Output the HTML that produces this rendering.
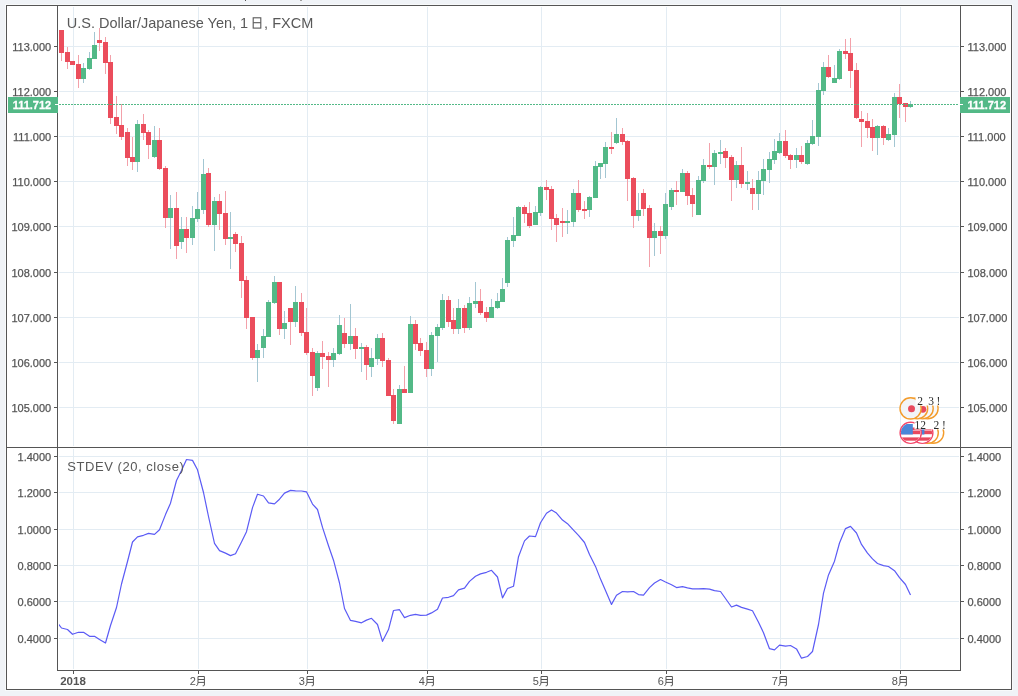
<!DOCTYPE html>
<html><head><meta charset="utf-8"><title>USDJPY</title>
<style>html,body{margin:0;padding:0;background:#f0f3f7;}body{width:1018px;height:696px;position:relative;overflow:hidden;font-family:"Liberation Sans",sans-serif;}</style>
</head><body>
<svg width="1018" height="696" viewBox="0 0 1018 696" style="position:absolute;left:0;top:0;will-change:transform">
<rect x="0" y="0" width="1018" height="696" fill="#f0f3f7"/>
<rect x="245" y="0" width="1" height="1" fill="#555"/><rect x="300" y="0" width="2" height="1" fill="#a0a0a0"/>
<rect x="5" y="4" width="1008" height="687" fill="#f8fafb"/>
<rect x="6" y="5" width="1006" height="685" fill="#ffffff"/>
<g fill="#e3ecf3" shape-rendering="crispEdges">
<rect x="73" y="7" width="1" height="439"/>
<rect x="73" y="449" width="1" height="220"/>
<rect x="198" y="7" width="1" height="439"/>
<rect x="198" y="449" width="1" height="220"/>
<rect x="307" y="7" width="1" height="439"/>
<rect x="307" y="449" width="1" height="220"/>
<rect x="427" y="7" width="1" height="439"/>
<rect x="427" y="449" width="1" height="220"/>
<rect x="541" y="7" width="1" height="439"/>
<rect x="541" y="449" width="1" height="220"/>
<rect x="666" y="7" width="1" height="439"/>
<rect x="666" y="449" width="1" height="220"/>
<rect x="780" y="7" width="1" height="439"/>
<rect x="780" y="449" width="1" height="220"/>
<rect x="900" y="7" width="1" height="439"/>
<rect x="900" y="449" width="1" height="220"/>
<rect x="59" y="46" width="900" height="1"/>
<rect x="59" y="91" width="900" height="1"/>
<rect x="59" y="136" width="900" height="1"/>
<rect x="59" y="181" width="900" height="1"/>
<rect x="59" y="226" width="900" height="1"/>
<rect x="59" y="272" width="900" height="1"/>
<rect x="59" y="317" width="900" height="1"/>
<rect x="59" y="362" width="900" height="1"/>
<rect x="59" y="407" width="900" height="1"/>
<rect x="59" y="456" width="900" height="1"/>
<rect x="59" y="492" width="900" height="1"/>
<rect x="59" y="529" width="900" height="1"/>
<rect x="59" y="565" width="900" height="1"/>
<rect x="59" y="601" width="900" height="1"/>
<rect x="59" y="638" width="900" height="1"/>
</g>
<defs><clipPath id="cm"><rect x="58" y="6" width="902" height="441"/></clipPath><clipPath id="ci"><rect x="59" y="448" width="901" height="222"/></clipPath></defs>
<g clip-path="url(#cm)" shape-rendering="crispEdges">
<rect x="61" y="53" width="1" height="8" fill="#f3a1aa"/>
<rect x="59" y="30" width="5" height="23" fill="#eb4d5c"/>
<rect x="67" y="47" width="1" height="5" fill="#f3a1aa"/>
<rect x="67" y="62" width="1" height="7" fill="#f3a1aa"/>
<rect x="65" y="52" width="5" height="10" fill="#eb4d5c"/>
<rect x="70" y="61" width="5" height="4" fill="#eb4d5c"/>
<rect x="78" y="55" width="1" height="9" fill="#f3a1aa"/>
<rect x="78" y="79" width="1" height="9" fill="#f3a1aa"/>
<rect x="76" y="64" width="5" height="15" fill="#eb4d5c"/>
<rect x="83" y="63" width="1" height="5" fill="#a3c6d2"/>
<rect x="83" y="79" width="1" height="4" fill="#a3c6d2"/>
<rect x="81" y="68" width="5" height="11" fill="#53b987"/>
<rect x="89" y="52" width="1" height="6" fill="#a3c6d2"/>
<rect x="89" y="69" width="1" height="1" fill="#a3c6d2"/>
<rect x="87" y="58" width="5" height="11" fill="#53b987"/>
<rect x="94" y="32" width="1" height="13" fill="#a3c6d2"/>
<rect x="92" y="45" width="5" height="14" fill="#53b987"/>
<rect x="99" y="28" width="1" height="12" fill="#f3a1aa"/>
<rect x="99" y="43" width="1" height="8" fill="#f3a1aa"/>
<rect x="97" y="40" width="5" height="3" fill="#eb4d5c"/>
<rect x="105" y="37" width="1" height="5" fill="#f3a1aa"/>
<rect x="105" y="63" width="1" height="11" fill="#f3a1aa"/>
<rect x="103" y="42" width="5" height="21" fill="#eb4d5c"/>
<rect x="110" y="55" width="1" height="7" fill="#f3a1aa"/>
<rect x="110" y="118" width="1" height="6" fill="#f3a1aa"/>
<rect x="108" y="62" width="5" height="56" fill="#eb4d5c"/>
<rect x="116" y="96" width="1" height="21" fill="#f3a1aa"/>
<rect x="116" y="126" width="1" height="8" fill="#f3a1aa"/>
<rect x="114" y="117" width="5" height="9" fill="#eb4d5c"/>
<rect x="121" y="104" width="1" height="21" fill="#f3a1aa"/>
<rect x="121" y="137" width="1" height="3" fill="#f3a1aa"/>
<rect x="119" y="125" width="5" height="12" fill="#eb4d5c"/>
<rect x="127" y="128" width="1" height="4" fill="#f3a1aa"/>
<rect x="127" y="158" width="1" height="8" fill="#f3a1aa"/>
<rect x="125" y="132" width="5" height="26" fill="#eb4d5c"/>
<rect x="132" y="137" width="1" height="20" fill="#f3a1aa"/>
<rect x="132" y="162" width="1" height="8" fill="#f3a1aa"/>
<rect x="130" y="157" width="5" height="5" fill="#eb4d5c"/>
<rect x="137" y="120" width="1" height="4" fill="#a3c6d2"/>
<rect x="137" y="162" width="1" height="10" fill="#a3c6d2"/>
<rect x="135" y="124" width="5" height="38" fill="#53b987"/>
<rect x="143" y="114" width="1" height="10" fill="#f3a1aa"/>
<rect x="143" y="133" width="1" height="7" fill="#f3a1aa"/>
<rect x="141" y="124" width="5" height="9" fill="#eb4d5c"/>
<rect x="148" y="130" width="1" height="2" fill="#f3a1aa"/>
<rect x="148" y="145" width="1" height="14" fill="#f3a1aa"/>
<rect x="146" y="132" width="5" height="13" fill="#eb4d5c"/>
<rect x="154" y="126" width="1" height="14" fill="#a3c6d2"/>
<rect x="154" y="157" width="1" height="1" fill="#a3c6d2"/>
<rect x="152" y="140" width="5" height="17" fill="#53b987"/>
<rect x="159" y="128" width="1" height="12" fill="#f3a1aa"/>
<rect x="159" y="169" width="1" height="1" fill="#f3a1aa"/>
<rect x="157" y="140" width="5" height="29" fill="#eb4d5c"/>
<rect x="165" y="166" width="1" height="2" fill="#f3a1aa"/>
<rect x="165" y="218" width="1" height="10" fill="#f3a1aa"/>
<rect x="163" y="168" width="5" height="50" fill="#eb4d5c"/>
<rect x="170" y="195" width="1" height="13" fill="#a3c6d2"/>
<rect x="170" y="218" width="1" height="31" fill="#a3c6d2"/>
<rect x="168" y="208" width="5" height="10" fill="#53b987"/>
<rect x="176" y="192" width="1" height="16" fill="#f3a1aa"/>
<rect x="176" y="246" width="1" height="13" fill="#f3a1aa"/>
<rect x="174" y="208" width="5" height="38" fill="#eb4d5c"/>
<rect x="181" y="217" width="1" height="12" fill="#a3c6d2"/>
<rect x="181" y="242" width="1" height="7" fill="#a3c6d2"/>
<rect x="179" y="229" width="5" height="13" fill="#53b987"/>
<rect x="186" y="217" width="1" height="12" fill="#f3a1aa"/>
<rect x="186" y="238" width="1" height="15" fill="#f3a1aa"/>
<rect x="184" y="229" width="5" height="9" fill="#eb4d5c"/>
<rect x="192" y="206" width="1" height="12" fill="#a3c6d2"/>
<rect x="192" y="238" width="1" height="7" fill="#a3c6d2"/>
<rect x="190" y="218" width="5" height="20" fill="#53b987"/>
<rect x="197" y="192" width="1" height="17" fill="#a3c6d2"/>
<rect x="197" y="219" width="1" height="3" fill="#a3c6d2"/>
<rect x="195" y="209" width="5" height="10" fill="#53b987"/>
<rect x="203" y="159" width="1" height="15" fill="#a3c6d2"/>
<rect x="203" y="210" width="1" height="4" fill="#a3c6d2"/>
<rect x="201" y="174" width="5" height="36" fill="#53b987"/>
<rect x="208" y="168" width="1" height="5" fill="#f3a1aa"/>
<rect x="208" y="225" width="1" height="2" fill="#f3a1aa"/>
<rect x="206" y="173" width="5" height="52" fill="#eb4d5c"/>
<rect x="214" y="197" width="1" height="4" fill="#a3c6d2"/>
<rect x="214" y="225" width="1" height="26" fill="#a3c6d2"/>
<rect x="212" y="201" width="5" height="24" fill="#53b987"/>
<rect x="219" y="194" width="1" height="7" fill="#f3a1aa"/>
<rect x="219" y="214" width="1" height="16" fill="#f3a1aa"/>
<rect x="217" y="201" width="5" height="13" fill="#eb4d5c"/>
<rect x="225" y="191" width="1" height="22" fill="#f3a1aa"/>
<rect x="225" y="239" width="1" height="6" fill="#f3a1aa"/>
<rect x="223" y="213" width="5" height="26" fill="#eb4d5c"/>
<rect x="230" y="212" width="1" height="25" fill="#a3c6d2"/>
<rect x="230" y="239" width="1" height="30" fill="#a3c6d2"/>
<rect x="228" y="237" width="5" height="2" fill="#53b987"/>
<rect x="235" y="232" width="1" height="2" fill="#f3a1aa"/>
<rect x="235" y="244" width="1" height="8" fill="#f3a1aa"/>
<rect x="233" y="234" width="5" height="10" fill="#eb4d5c"/>
<rect x="241" y="236" width="1" height="7" fill="#f3a1aa"/>
<rect x="241" y="281" width="1" height="17" fill="#f3a1aa"/>
<rect x="239" y="243" width="5" height="38" fill="#eb4d5c"/>
<rect x="246" y="276" width="1" height="4" fill="#f3a1aa"/>
<rect x="246" y="318" width="1" height="11" fill="#f3a1aa"/>
<rect x="244" y="280" width="5" height="38" fill="#eb4d5c"/>
<rect x="252" y="358" width="1" height="2" fill="#f3a1aa"/>
<rect x="250" y="317" width="5" height="41" fill="#eb4d5c"/>
<rect x="257" y="344" width="1" height="6" fill="#a3c6d2"/>
<rect x="257" y="358" width="1" height="24" fill="#a3c6d2"/>
<rect x="255" y="350" width="5" height="8" fill="#53b987"/>
<rect x="263" y="329" width="1" height="7" fill="#a3c6d2"/>
<rect x="263" y="348" width="1" height="10" fill="#a3c6d2"/>
<rect x="261" y="336" width="5" height="12" fill="#53b987"/>
<rect x="268" y="300" width="1" height="2" fill="#a3c6d2"/>
<rect x="266" y="302" width="5" height="35" fill="#53b987"/>
<rect x="274" y="276" width="1" height="6" fill="#a3c6d2"/>
<rect x="274" y="303" width="1" height="1" fill="#a3c6d2"/>
<rect x="272" y="282" width="5" height="21" fill="#53b987"/>
<rect x="279" y="329" width="1" height="6" fill="#f3a1aa"/>
<rect x="277" y="282" width="5" height="47" fill="#eb4d5c"/>
<rect x="284" y="311" width="1" height="12" fill="#a3c6d2"/>
<rect x="284" y="329" width="1" height="10" fill="#a3c6d2"/>
<rect x="282" y="323" width="5" height="6" fill="#53b987"/>
<rect x="290" y="322" width="1" height="23" fill="#f3a1aa"/>
<rect x="288" y="308" width="5" height="14" fill="#eb4d5c"/>
<rect x="295" y="286" width="1" height="16" fill="#a3c6d2"/>
<rect x="295" y="322" width="1" height="5" fill="#a3c6d2"/>
<rect x="293" y="302" width="5" height="20" fill="#53b987"/>
<rect x="301" y="293" width="1" height="9" fill="#f3a1aa"/>
<rect x="301" y="333" width="1" height="3" fill="#f3a1aa"/>
<rect x="299" y="302" width="5" height="31" fill="#eb4d5c"/>
<rect x="306" y="308" width="1" height="24" fill="#f3a1aa"/>
<rect x="306" y="353" width="1" height="2" fill="#f3a1aa"/>
<rect x="304" y="332" width="5" height="21" fill="#eb4d5c"/>
<rect x="312" y="348" width="1" height="4" fill="#f3a1aa"/>
<rect x="312" y="376" width="1" height="20" fill="#f3a1aa"/>
<rect x="310" y="352" width="5" height="24" fill="#eb4d5c"/>
<rect x="317" y="351" width="1" height="2" fill="#a3c6d2"/>
<rect x="317" y="388" width="1" height="3" fill="#a3c6d2"/>
<rect x="315" y="353" width="5" height="35" fill="#53b987"/>
<rect x="322" y="341" width="1" height="12" fill="#f3a1aa"/>
<rect x="322" y="357" width="1" height="12" fill="#f3a1aa"/>
<rect x="320" y="353" width="5" height="4" fill="#eb4d5c"/>
<rect x="328" y="352" width="1" height="4" fill="#f3a1aa"/>
<rect x="328" y="360" width="1" height="27" fill="#f3a1aa"/>
<rect x="326" y="356" width="5" height="4" fill="#eb4d5c"/>
<rect x="333" y="348" width="1" height="5" fill="#a3c6d2"/>
<rect x="333" y="360" width="1" height="7" fill="#a3c6d2"/>
<rect x="331" y="353" width="5" height="7" fill="#53b987"/>
<rect x="339" y="315" width="1" height="10" fill="#a3c6d2"/>
<rect x="339" y="354" width="1" height="1" fill="#a3c6d2"/>
<rect x="337" y="325" width="5" height="29" fill="#53b987"/>
<rect x="344" y="318" width="1" height="15" fill="#f3a1aa"/>
<rect x="344" y="344" width="1" height="4" fill="#f3a1aa"/>
<rect x="342" y="333" width="5" height="11" fill="#eb4d5c"/>
<rect x="350" y="304" width="1" height="32" fill="#a3c6d2"/>
<rect x="350" y="344" width="1" height="6" fill="#a3c6d2"/>
<rect x="348" y="336" width="5" height="8" fill="#53b987"/>
<rect x="355" y="328" width="1" height="8" fill="#f3a1aa"/>
<rect x="355" y="349" width="1" height="10" fill="#f3a1aa"/>
<rect x="353" y="336" width="5" height="13" fill="#eb4d5c"/>
<rect x="361" y="343" width="1" height="4" fill="#a3c6d2"/>
<rect x="361" y="349" width="1" height="23" fill="#a3c6d2"/>
<rect x="359" y="347" width="5" height="2" fill="#53b987"/>
<rect x="366" y="345" width="1" height="2" fill="#f3a1aa"/>
<rect x="366" y="365" width="1" height="15" fill="#f3a1aa"/>
<rect x="364" y="347" width="5" height="18" fill="#eb4d5c"/>
<rect x="371" y="348" width="1" height="10" fill="#a3c6d2"/>
<rect x="371" y="367" width="1" height="10" fill="#a3c6d2"/>
<rect x="369" y="358" width="5" height="9" fill="#53b987"/>
<rect x="377" y="334" width="1" height="4" fill="#a3c6d2"/>
<rect x="377" y="359" width="1" height="6" fill="#a3c6d2"/>
<rect x="375" y="338" width="5" height="21" fill="#53b987"/>
<rect x="382" y="333" width="1" height="5" fill="#f3a1aa"/>
<rect x="382" y="361" width="1" height="6" fill="#f3a1aa"/>
<rect x="380" y="338" width="5" height="23" fill="#eb4d5c"/>
<rect x="388" y="358" width="1" height="2" fill="#f3a1aa"/>
<rect x="386" y="360" width="5" height="36" fill="#eb4d5c"/>
<rect x="393" y="389" width="1" height="6" fill="#f3a1aa"/>
<rect x="393" y="421" width="1" height="3" fill="#f3a1aa"/>
<rect x="391" y="395" width="5" height="26" fill="#eb4d5c"/>
<rect x="399" y="385" width="1" height="4" fill="#a3c6d2"/>
<rect x="397" y="389" width="5" height="35" fill="#53b987"/>
<rect x="404" y="366" width="1" height="23" fill="#f3a1aa"/>
<rect x="402" y="389" width="5" height="4" fill="#eb4d5c"/>
<rect x="410" y="316" width="1" height="8" fill="#a3c6d2"/>
<rect x="408" y="324" width="5" height="69" fill="#53b987"/>
<rect x="415" y="320" width="1" height="4" fill="#f3a1aa"/>
<rect x="415" y="344" width="1" height="6" fill="#f3a1aa"/>
<rect x="413" y="324" width="5" height="20" fill="#eb4d5c"/>
<rect x="420" y="338" width="1" height="5" fill="#f3a1aa"/>
<rect x="420" y="351" width="1" height="5" fill="#f3a1aa"/>
<rect x="418" y="343" width="5" height="8" fill="#eb4d5c"/>
<rect x="426" y="342" width="1" height="8" fill="#f3a1aa"/>
<rect x="426" y="369" width="1" height="8" fill="#f3a1aa"/>
<rect x="424" y="350" width="5" height="19" fill="#eb4d5c"/>
<rect x="431" y="332" width="1" height="3" fill="#a3c6d2"/>
<rect x="431" y="369" width="1" height="7" fill="#a3c6d2"/>
<rect x="429" y="335" width="5" height="34" fill="#53b987"/>
<rect x="437" y="324" width="1" height="3" fill="#a3c6d2"/>
<rect x="437" y="336" width="1" height="26" fill="#a3c6d2"/>
<rect x="435" y="327" width="5" height="9" fill="#53b987"/>
<rect x="442" y="294" width="1" height="6" fill="#a3c6d2"/>
<rect x="442" y="328" width="1" height="2" fill="#a3c6d2"/>
<rect x="440" y="300" width="5" height="28" fill="#53b987"/>
<rect x="448" y="296" width="1" height="4" fill="#f3a1aa"/>
<rect x="448" y="322" width="1" height="5" fill="#f3a1aa"/>
<rect x="446" y="300" width="5" height="22" fill="#eb4d5c"/>
<rect x="453" y="308" width="1" height="12" fill="#f3a1aa"/>
<rect x="453" y="329" width="1" height="5" fill="#f3a1aa"/>
<rect x="451" y="320" width="5" height="9" fill="#eb4d5c"/>
<rect x="458" y="299" width="1" height="9" fill="#a3c6d2"/>
<rect x="458" y="329" width="1" height="5" fill="#a3c6d2"/>
<rect x="456" y="308" width="5" height="21" fill="#53b987"/>
<rect x="464" y="305" width="1" height="3" fill="#f3a1aa"/>
<rect x="464" y="328" width="1" height="5" fill="#f3a1aa"/>
<rect x="462" y="308" width="5" height="20" fill="#eb4d5c"/>
<rect x="469" y="297" width="1" height="6" fill="#a3c6d2"/>
<rect x="469" y="328" width="1" height="2" fill="#a3c6d2"/>
<rect x="467" y="303" width="5" height="25" fill="#53b987"/>
<rect x="475" y="282" width="1" height="19" fill="#a3c6d2"/>
<rect x="475" y="304" width="1" height="4" fill="#a3c6d2"/>
<rect x="473" y="301" width="5" height="3" fill="#53b987"/>
<rect x="480" y="289" width="1" height="12" fill="#f3a1aa"/>
<rect x="480" y="313" width="1" height="2" fill="#f3a1aa"/>
<rect x="478" y="301" width="5" height="12" fill="#eb4d5c"/>
<rect x="486" y="307" width="1" height="5" fill="#f3a1aa"/>
<rect x="486" y="318" width="1" height="4" fill="#f3a1aa"/>
<rect x="484" y="312" width="5" height="6" fill="#eb4d5c"/>
<rect x="491" y="299" width="1" height="8" fill="#a3c6d2"/>
<rect x="489" y="307" width="5" height="11" fill="#53b987"/>
<rect x="497" y="293" width="1" height="8" fill="#a3c6d2"/>
<rect x="497" y="308" width="1" height="1" fill="#a3c6d2"/>
<rect x="495" y="301" width="5" height="7" fill="#53b987"/>
<rect x="502" y="278" width="1" height="11" fill="#a3c6d2"/>
<rect x="500" y="289" width="5" height="13" fill="#53b987"/>
<rect x="507" y="237" width="1" height="3" fill="#a3c6d2"/>
<rect x="507" y="283" width="1" height="4" fill="#a3c6d2"/>
<rect x="505" y="240" width="5" height="43" fill="#53b987"/>
<rect x="513" y="217" width="1" height="18" fill="#a3c6d2"/>
<rect x="513" y="241" width="1" height="6" fill="#a3c6d2"/>
<rect x="511" y="235" width="5" height="6" fill="#53b987"/>
<rect x="518" y="206" width="1" height="1" fill="#a3c6d2"/>
<rect x="516" y="207" width="5" height="29" fill="#53b987"/>
<rect x="524" y="205" width="1" height="2" fill="#f3a1aa"/>
<rect x="524" y="214" width="1" height="9" fill="#f3a1aa"/>
<rect x="522" y="207" width="5" height="7" fill="#eb4d5c"/>
<rect x="529" y="202" width="1" height="11" fill="#f3a1aa"/>
<rect x="529" y="226" width="1" height="2" fill="#f3a1aa"/>
<rect x="527" y="213" width="5" height="13" fill="#eb4d5c"/>
<rect x="535" y="206" width="1" height="6" fill="#a3c6d2"/>
<rect x="533" y="212" width="5" height="13" fill="#53b987"/>
<rect x="540" y="186" width="1" height="1" fill="#a3c6d2"/>
<rect x="540" y="213" width="1" height="3" fill="#a3c6d2"/>
<rect x="538" y="187" width="5" height="26" fill="#53b987"/>
<rect x="546" y="180" width="1" height="7" fill="#f3a1aa"/>
<rect x="546" y="190" width="1" height="10" fill="#f3a1aa"/>
<rect x="544" y="187" width="5" height="3" fill="#eb4d5c"/>
<rect x="551" y="186" width="1" height="3" fill="#f3a1aa"/>
<rect x="551" y="219" width="1" height="11" fill="#f3a1aa"/>
<rect x="549" y="189" width="5" height="30" fill="#eb4d5c"/>
<rect x="556" y="214" width="1" height="4" fill="#f3a1aa"/>
<rect x="556" y="225" width="1" height="17" fill="#f3a1aa"/>
<rect x="554" y="218" width="5" height="7" fill="#eb4d5c"/>
<rect x="562" y="208" width="1" height="13" fill="#f3a1aa"/>
<rect x="562" y="223" width="1" height="14" fill="#f3a1aa"/>
<rect x="560" y="221" width="5" height="2" fill="#eb4d5c"/>
<rect x="567" y="210" width="1" height="11" fill="#a3c6d2"/>
<rect x="567" y="223" width="1" height="11" fill="#a3c6d2"/>
<rect x="565" y="221" width="5" height="2" fill="#53b987"/>
<rect x="573" y="189" width="1" height="4" fill="#a3c6d2"/>
<rect x="573" y="222" width="1" height="5" fill="#a3c6d2"/>
<rect x="571" y="193" width="5" height="29" fill="#53b987"/>
<rect x="578" y="180" width="1" height="13" fill="#f3a1aa"/>
<rect x="578" y="210" width="1" height="2" fill="#f3a1aa"/>
<rect x="576" y="193" width="5" height="17" fill="#eb4d5c"/>
<rect x="584" y="201" width="1" height="8" fill="#f3a1aa"/>
<rect x="584" y="211" width="1" height="8" fill="#f3a1aa"/>
<rect x="582" y="209" width="5" height="2" fill="#eb4d5c"/>
<rect x="589" y="196" width="1" height="1" fill="#a3c6d2"/>
<rect x="589" y="210" width="1" height="7" fill="#a3c6d2"/>
<rect x="587" y="197" width="5" height="13" fill="#53b987"/>
<rect x="595" y="161" width="1" height="5" fill="#a3c6d2"/>
<rect x="593" y="166" width="5" height="32" fill="#53b987"/>
<rect x="600" y="167" width="1" height="12" fill="#a3c6d2"/>
<rect x="598" y="163" width="5" height="4" fill="#53b987"/>
<rect x="605" y="142" width="1" height="5" fill="#a3c6d2"/>
<rect x="605" y="164" width="1" height="14" fill="#a3c6d2"/>
<rect x="603" y="147" width="5" height="17" fill="#53b987"/>
<rect x="611" y="132" width="1" height="15" fill="#f3a1aa"/>
<rect x="611" y="149" width="1" height="5" fill="#f3a1aa"/>
<rect x="609" y="147" width="5" height="2" fill="#eb4d5c"/>
<rect x="616" y="118" width="1" height="16" fill="#a3c6d2"/>
<rect x="616" y="143" width="1" height="1" fill="#a3c6d2"/>
<rect x="614" y="134" width="5" height="9" fill="#53b987"/>
<rect x="622" y="128" width="1" height="6" fill="#f3a1aa"/>
<rect x="622" y="142" width="1" height="3" fill="#f3a1aa"/>
<rect x="620" y="134" width="5" height="8" fill="#eb4d5c"/>
<rect x="627" y="140" width="1" height="1" fill="#f3a1aa"/>
<rect x="627" y="179" width="1" height="22" fill="#f3a1aa"/>
<rect x="625" y="141" width="5" height="38" fill="#eb4d5c"/>
<rect x="633" y="177" width="1" height="1" fill="#f3a1aa"/>
<rect x="633" y="216" width="1" height="12" fill="#f3a1aa"/>
<rect x="631" y="178" width="5" height="38" fill="#eb4d5c"/>
<rect x="638" y="193" width="1" height="17" fill="#a3c6d2"/>
<rect x="638" y="216" width="1" height="5" fill="#a3c6d2"/>
<rect x="636" y="210" width="5" height="6" fill="#53b987"/>
<rect x="643" y="189" width="1" height="4" fill="#f3a1aa"/>
<rect x="643" y="209" width="1" height="7" fill="#f3a1aa"/>
<rect x="641" y="193" width="5" height="16" fill="#eb4d5c"/>
<rect x="649" y="205" width="1" height="3" fill="#f3a1aa"/>
<rect x="649" y="238" width="1" height="29" fill="#f3a1aa"/>
<rect x="647" y="208" width="5" height="30" fill="#eb4d5c"/>
<rect x="654" y="223" width="1" height="8" fill="#a3c6d2"/>
<rect x="654" y="238" width="1" height="18" fill="#a3c6d2"/>
<rect x="652" y="231" width="5" height="7" fill="#53b987"/>
<rect x="660" y="226" width="1" height="5" fill="#f3a1aa"/>
<rect x="660" y="236" width="1" height="18" fill="#f3a1aa"/>
<rect x="658" y="231" width="5" height="5" fill="#eb4d5c"/>
<rect x="665" y="193" width="1" height="11" fill="#a3c6d2"/>
<rect x="665" y="236" width="1" height="3" fill="#a3c6d2"/>
<rect x="663" y="204" width="5" height="32" fill="#53b987"/>
<rect x="671" y="188" width="1" height="2" fill="#a3c6d2"/>
<rect x="671" y="207" width="1" height="3" fill="#a3c6d2"/>
<rect x="669" y="190" width="5" height="17" fill="#53b987"/>
<rect x="676" y="181" width="1" height="9" fill="#f3a1aa"/>
<rect x="676" y="192" width="1" height="13" fill="#f3a1aa"/>
<rect x="674" y="190" width="5" height="2" fill="#eb4d5c"/>
<rect x="682" y="169" width="1" height="4" fill="#a3c6d2"/>
<rect x="680" y="173" width="5" height="19" fill="#53b987"/>
<rect x="687" y="171" width="1" height="2" fill="#f3a1aa"/>
<rect x="687" y="196" width="1" height="9" fill="#f3a1aa"/>
<rect x="685" y="173" width="5" height="23" fill="#eb4d5c"/>
<rect x="692" y="188" width="1" height="7" fill="#f3a1aa"/>
<rect x="692" y="204" width="1" height="13" fill="#f3a1aa"/>
<rect x="690" y="195" width="5" height="9" fill="#eb4d5c"/>
<rect x="698" y="176" width="1" height="4" fill="#a3c6d2"/>
<rect x="696" y="180" width="5" height="35" fill="#53b987"/>
<rect x="703" y="159" width="1" height="6" fill="#a3c6d2"/>
<rect x="703" y="181" width="1" height="2" fill="#a3c6d2"/>
<rect x="701" y="165" width="5" height="16" fill="#53b987"/>
<rect x="709" y="143" width="1" height="22" fill="#f3a1aa"/>
<rect x="709" y="167" width="1" height="2" fill="#f3a1aa"/>
<rect x="707" y="165" width="5" height="2" fill="#eb4d5c"/>
<rect x="714" y="150" width="1" height="3" fill="#a3c6d2"/>
<rect x="714" y="167" width="1" height="18" fill="#a3c6d2"/>
<rect x="712" y="153" width="5" height="14" fill="#53b987"/>
<rect x="720" y="140" width="1" height="12" fill="#a3c6d2"/>
<rect x="720" y="154" width="1" height="10" fill="#a3c6d2"/>
<rect x="718" y="152" width="5" height="2" fill="#53b987"/>
<rect x="725" y="148" width="1" height="3" fill="#f3a1aa"/>
<rect x="725" y="158" width="1" height="10" fill="#f3a1aa"/>
<rect x="723" y="151" width="5" height="7" fill="#eb4d5c"/>
<rect x="731" y="155" width="1" height="2" fill="#f3a1aa"/>
<rect x="731" y="180" width="1" height="21" fill="#f3a1aa"/>
<rect x="729" y="157" width="5" height="23" fill="#eb4d5c"/>
<rect x="736" y="161" width="1" height="4" fill="#a3c6d2"/>
<rect x="736" y="180" width="1" height="8" fill="#a3c6d2"/>
<rect x="734" y="165" width="5" height="15" fill="#53b987"/>
<rect x="741" y="147" width="1" height="18" fill="#f3a1aa"/>
<rect x="741" y="184" width="1" height="4" fill="#f3a1aa"/>
<rect x="739" y="165" width="5" height="19" fill="#eb4d5c"/>
<rect x="747" y="171" width="1" height="11" fill="#a3c6d2"/>
<rect x="747" y="184" width="1" height="6" fill="#a3c6d2"/>
<rect x="745" y="182" width="5" height="2" fill="#53b987"/>
<rect x="752" y="179" width="1" height="9" fill="#f3a1aa"/>
<rect x="752" y="194" width="1" height="16" fill="#f3a1aa"/>
<rect x="750" y="188" width="5" height="6" fill="#eb4d5c"/>
<rect x="758" y="171" width="1" height="9" fill="#a3c6d2"/>
<rect x="758" y="194" width="1" height="16" fill="#a3c6d2"/>
<rect x="756" y="180" width="5" height="14" fill="#53b987"/>
<rect x="763" y="159" width="1" height="10" fill="#a3c6d2"/>
<rect x="763" y="181" width="1" height="14" fill="#a3c6d2"/>
<rect x="761" y="169" width="5" height="12" fill="#53b987"/>
<rect x="769" y="152" width="1" height="7" fill="#a3c6d2"/>
<rect x="769" y="170" width="1" height="13" fill="#a3c6d2"/>
<rect x="767" y="159" width="5" height="11" fill="#53b987"/>
<rect x="774" y="139" width="1" height="12" fill="#a3c6d2"/>
<rect x="774" y="160" width="1" height="4" fill="#a3c6d2"/>
<rect x="772" y="151" width="5" height="9" fill="#53b987"/>
<rect x="779" y="133" width="1" height="8" fill="#a3c6d2"/>
<rect x="779" y="153" width="1" height="1" fill="#a3c6d2"/>
<rect x="777" y="141" width="5" height="12" fill="#53b987"/>
<rect x="785" y="130" width="1" height="11" fill="#f3a1aa"/>
<rect x="785" y="156" width="1" height="2" fill="#f3a1aa"/>
<rect x="783" y="141" width="5" height="15" fill="#eb4d5c"/>
<rect x="790" y="154" width="1" height="1" fill="#f3a1aa"/>
<rect x="790" y="160" width="1" height="9" fill="#f3a1aa"/>
<rect x="788" y="155" width="5" height="5" fill="#eb4d5c"/>
<rect x="796" y="148" width="1" height="7" fill="#a3c6d2"/>
<rect x="796" y="160" width="1" height="8" fill="#a3c6d2"/>
<rect x="794" y="155" width="5" height="5" fill="#53b987"/>
<rect x="801" y="146" width="1" height="9" fill="#f3a1aa"/>
<rect x="801" y="162" width="1" height="2" fill="#f3a1aa"/>
<rect x="799" y="155" width="5" height="7" fill="#eb4d5c"/>
<rect x="807" y="140" width="1" height="3" fill="#a3c6d2"/>
<rect x="807" y="164" width="1" height="1" fill="#a3c6d2"/>
<rect x="805" y="143" width="5" height="21" fill="#53b987"/>
<rect x="812" y="120" width="1" height="16" fill="#a3c6d2"/>
<rect x="812" y="144" width="1" height="1" fill="#a3c6d2"/>
<rect x="810" y="136" width="5" height="8" fill="#53b987"/>
<rect x="818" y="83" width="1" height="7" fill="#a3c6d2"/>
<rect x="818" y="137" width="1" height="9" fill="#a3c6d2"/>
<rect x="816" y="90" width="5" height="47" fill="#53b987"/>
<rect x="823" y="62" width="1" height="5" fill="#a3c6d2"/>
<rect x="823" y="91" width="1" height="4" fill="#a3c6d2"/>
<rect x="821" y="67" width="5" height="24" fill="#53b987"/>
<rect x="828" y="55" width="1" height="12" fill="#f3a1aa"/>
<rect x="828" y="77" width="1" height="1" fill="#f3a1aa"/>
<rect x="826" y="67" width="5" height="10" fill="#eb4d5c"/>
<rect x="834" y="65" width="1" height="13" fill="#a3c6d2"/>
<rect x="832" y="78" width="5" height="5" fill="#53b987"/>
<rect x="839" y="49" width="1" height="2" fill="#a3c6d2"/>
<rect x="839" y="79" width="1" height="1" fill="#a3c6d2"/>
<rect x="837" y="51" width="5" height="28" fill="#53b987"/>
<rect x="845" y="39" width="1" height="12" fill="#f3a1aa"/>
<rect x="845" y="54" width="1" height="5" fill="#f3a1aa"/>
<rect x="843" y="51" width="5" height="3" fill="#eb4d5c"/>
<rect x="850" y="38" width="1" height="15" fill="#f3a1aa"/>
<rect x="850" y="71" width="1" height="17" fill="#f3a1aa"/>
<rect x="848" y="53" width="5" height="18" fill="#eb4d5c"/>
<rect x="856" y="63" width="1" height="7" fill="#f3a1aa"/>
<rect x="856" y="118" width="1" height="1" fill="#f3a1aa"/>
<rect x="854" y="70" width="5" height="48" fill="#eb4d5c"/>
<rect x="861" y="111" width="1" height="8" fill="#f3a1aa"/>
<rect x="861" y="122" width="1" height="25" fill="#f3a1aa"/>
<rect x="859" y="119" width="5" height="3" fill="#eb4d5c"/>
<rect x="867" y="113" width="1" height="8" fill="#f3a1aa"/>
<rect x="867" y="128" width="1" height="10" fill="#f3a1aa"/>
<rect x="865" y="121" width="5" height="7" fill="#eb4d5c"/>
<rect x="872" y="119" width="1" height="8" fill="#f3a1aa"/>
<rect x="872" y="138" width="1" height="13" fill="#f3a1aa"/>
<rect x="870" y="127" width="5" height="11" fill="#eb4d5c"/>
<rect x="877" y="125" width="1" height="1" fill="#a3c6d2"/>
<rect x="877" y="138" width="1" height="17" fill="#a3c6d2"/>
<rect x="875" y="126" width="5" height="12" fill="#53b987"/>
<rect x="883" y="125" width="1" height="1" fill="#f3a1aa"/>
<rect x="883" y="138" width="1" height="7" fill="#f3a1aa"/>
<rect x="881" y="126" width="5" height="12" fill="#eb4d5c"/>
<rect x="888" y="128" width="1" height="6" fill="#a3c6d2"/>
<rect x="888" y="140" width="1" height="1" fill="#a3c6d2"/>
<rect x="886" y="134" width="5" height="6" fill="#53b987"/>
<rect x="894" y="93" width="1" height="4" fill="#a3c6d2"/>
<rect x="894" y="135" width="1" height="12" fill="#a3c6d2"/>
<rect x="892" y="97" width="5" height="38" fill="#53b987"/>
<rect x="899" y="84" width="1" height="13" fill="#f3a1aa"/>
<rect x="899" y="104" width="1" height="14" fill="#f3a1aa"/>
<rect x="897" y="97" width="5" height="7" fill="#eb4d5c"/>
<rect x="905" y="107" width="1" height="15" fill="#f3a1aa"/>
<rect x="903" y="103" width="5" height="4" fill="#eb4d5c"/>
<rect x="910" y="101" width="1" height="3" fill="#a3c6d2"/>
<rect x="910" y="107" width="1" height="1" fill="#a3c6d2"/>
<rect x="908" y="104" width="5" height="3" fill="#53b987"/>
</g>
<line x1="59" y1="104.5" x2="959" y2="104.5" stroke="#53b987" stroke-width="1" stroke-dasharray="2 1" shape-rendering="crispEdges"/>
<path clip-path="url(#ci)" d="M56.1,621.0 L61.5,628.0 L67.5,629.5 L72.5,634.3 L78.5,632.3 L83.5,632.3 L89.5,636.3 L94.5,636.3 L99.5,639.5 L105.5,643.0 L110.5,625.5 L116.5,607.5 L121.5,584.0 L127.5,561.5 L132.5,542.0 L137.5,536.8 L143.5,535.3 L148.5,533.4 L154.5,534.4 L159.5,529.8 L165.5,514.6 L170.5,503.2 L176.5,480.5 L181.5,470.5 L186.5,459.5 L192.5,460.4 L197.5,469.8 L203.5,492.5 L208.5,516.5 L214.5,543.4 L219.5,550.6 L225.5,553.1 L230.5,555.6 L235.5,553.7 L241.5,542.0 L246.5,531.7 L252.5,507.6 L257.5,494.2 L263.5,496.0 L268.5,502.9 L274.5,503.9 L279.5,499.2 L284.5,493.1 L290.5,490.4 L295.5,490.8 L301.5,491.0 L306.5,491.8 L312.5,504.1 L317.5,509.5 L322.5,527.4 L328.5,545.8 L333.5,560.2 L339.5,583.0 L344.5,608.5 L350.5,620.4 L355.5,621.3 L361.5,622.8 L366.5,620.1 L371.5,618.3 L377.5,624.5 L382.5,641.3 L388.5,629.6 L393.5,610.5 L399.5,609.7 L404.5,617.6 L410.5,615.3 L415.5,614.4 L420.5,615.4 L426.5,615.1 L431.5,612.9 L437.5,609.3 L442.5,598.0 L448.5,597.3 L453.5,595.6 L458.5,589.9 L464.5,588.1 L469.5,581.4 L475.5,576.2 L480.5,573.9 L486.5,572.3 L491.5,570.3 L497.5,577.0 L502.5,597.9 L507.5,588.5 L513.5,586.3 L518.5,556.7 L524.5,540.9 L529.5,536.0 L535.5,536.6 L540.5,522.8 L546.5,513.2 L551.5,509.9 L556.5,513.1 L562.5,520.1 L567.5,523.7 L573.5,530.1 L578.5,535.4 L584.5,542.5 L589.5,554.5 L595.5,566.4 L600.5,579.1 L605.5,590.6 L611.5,604.4 L616.5,595.2 L622.5,591.5 L627.5,591.9 L633.5,591.5 L638.5,594.6 L643.5,595.1 L649.5,587.6 L654.5,583.0 L660.5,579.5 L665.5,582.0 L671.5,584.8 L676.5,587.6 L682.5,586.7 L687.5,587.9 L692.5,588.8 L698.5,588.8 L703.5,588.6 L709.5,589.1 L714.5,590.6 L720.5,591.5 L725.5,598.5 L731.5,607.0 L736.5,605.1 L741.5,607.4 L747.5,609.1 L752.5,610.7 L758.5,622.2 L763.5,632.7 L769.5,648.7 L774.5,649.9 L779.5,645.1 L785.5,646.1 L790.5,645.5 L796.5,648.9 L801.5,658.2 L807.5,656.5 L812.5,651.5 L818.5,624.5 L823.5,593.1 L828.5,574.9 L834.5,561.2 L839.5,543.0 L845.5,528.6 L850.5,526.4 L856.5,533.0 L861.5,544.4 L867.5,553.1 L872.5,558.9 L877.5,563.5 L883.5,565.6 L888.5,566.5 L894.5,570.7 L899.5,577.7 L905.5,584.5 L910.5,595.0" fill="none" stroke="#5b5bf5" stroke-width="1.2" stroke-linejoin="round"/>
<g fill="#555555" shape-rendering="crispEdges">
<rect x="6" y="5" width="1006" height="1"/>
<rect x="6" y="689" width="1006" height="1"/>
<rect x="6" y="5" width="1" height="685"/>
<rect x="1011" y="5" width="1" height="685"/>
<rect x="57" y="5" width="1" height="666"/>
<rect x="960" y="5" width="1" height="666"/>
<rect x="6" y="447" width="1006" height="1"/>
<rect x="57" y="670" width="904" height="1"/>
<rect x="54" y="46" width="3" height="1"/>
<rect x="961" y="46" width="3" height="1"/>
<rect x="54" y="91" width="3" height="1"/>
<rect x="961" y="91" width="3" height="1"/>
<rect x="54" y="136" width="3" height="1"/>
<rect x="961" y="136" width="3" height="1"/>
<rect x="54" y="181" width="3" height="1"/>
<rect x="961" y="181" width="3" height="1"/>
<rect x="54" y="226" width="3" height="1"/>
<rect x="961" y="226" width="3" height="1"/>
<rect x="54" y="272" width="3" height="1"/>
<rect x="961" y="272" width="3" height="1"/>
<rect x="54" y="317" width="3" height="1"/>
<rect x="961" y="317" width="3" height="1"/>
<rect x="54" y="362" width="3" height="1"/>
<rect x="961" y="362" width="3" height="1"/>
<rect x="54" y="407" width="3" height="1"/>
<rect x="961" y="407" width="3" height="1"/>
<rect x="54" y="456" width="3" height="1"/>
<rect x="961" y="456" width="3" height="1"/>
<rect x="54" y="492" width="3" height="1"/>
<rect x="961" y="492" width="3" height="1"/>
<rect x="54" y="529" width="3" height="1"/>
<rect x="961" y="529" width="3" height="1"/>
<rect x="54" y="565" width="3" height="1"/>
<rect x="961" y="565" width="3" height="1"/>
<rect x="54" y="601" width="3" height="1"/>
<rect x="961" y="601" width="3" height="1"/>
<rect x="54" y="638" width="3" height="1"/>
<rect x="961" y="638" width="3" height="1"/>
<rect x="73" y="671" width="1" height="3"/>
<rect x="198" y="671" width="1" height="3"/>
<rect x="307" y="671" width="1" height="3"/>
<rect x="427" y="671" width="1" height="3"/>
<rect x="541" y="671" width="1" height="3"/>
<rect x="666" y="671" width="1" height="3"/>
<rect x="780" y="671" width="1" height="3"/>
<rect x="900" y="671" width="1" height="3"/>
</g>
<rect x="8" y="97" width="50" height="16" fill="#53b987"/>
<rect x="960" y="97" width="50" height="16" fill="#53b987"/>
<rect x="55" y="104" width="3" height="1" fill="#fff"/>
<rect x="960" y="104" width="3" height="1" fill="#fff"/>
<g font-family="Liberation Sans, sans-serif" font-size="11" fill="#555555" stroke="#555555" stroke-width="0.25">
<text x="51.2" y="51" text-anchor="end">113.000</text>
<text x="967.5" y="51">113.000</text>
<text x="51.2" y="96" text-anchor="end">112.000</text>
<text x="967.5" y="96">112.000</text>
<text x="51.2" y="141" text-anchor="end">111.000</text>
<text x="967.5" y="141">111.000</text>
<text x="51.2" y="186" text-anchor="end">110.000</text>
<text x="967.5" y="186">110.000</text>
<text x="51.2" y="231" text-anchor="end">109.000</text>
<text x="967.5" y="231">109.000</text>
<text x="51.2" y="277" text-anchor="end">108.000</text>
<text x="967.5" y="277">108.000</text>
<text x="51.2" y="322" text-anchor="end">107.000</text>
<text x="967.5" y="322">107.000</text>
<text x="51.2" y="367" text-anchor="end">106.000</text>
<text x="967.5" y="367">106.000</text>
<text x="51.2" y="412" text-anchor="end">105.000</text>
<text x="967.5" y="412">105.000</text>
<text x="51.2" y="461" text-anchor="end">1.4000</text>
<text x="967.5" y="461">1.4000</text>
<text x="51.2" y="497" text-anchor="end">1.2000</text>
<text x="967.5" y="497">1.2000</text>
<text x="51.2" y="534" text-anchor="end">1.0000</text>
<text x="967.5" y="534">1.0000</text>
<text x="51.2" y="570" text-anchor="end">0.8000</text>
<text x="967.5" y="570">0.8000</text>
<text x="51.2" y="606" text-anchor="end">0.6000</text>
<text x="967.5" y="606">0.6000</text>
<text x="51.2" y="643" text-anchor="end">0.4000</text>
<text x="967.5" y="643">0.4000</text>
</g>
<g font-family="Liberation Sans, sans-serif" font-size="11" font-weight="bold" fill="#ffffff" stroke="#ffffff" stroke-width="0.3"><text x="51.2" y="109.3" text-anchor="end">111.712</text><text x="967.5" y="109.3">111.712</text></g>
<text font-family="Liberation Sans, sans-serif" font-size="14.5" fill="#585858" x="66.8" y="28">U.S. Dollar/Japanese Yen, 1</text>
<g fill="none" stroke="#585858" stroke-width="1.1"><rect x="253.2" y="17.8" width="7.6" height="10.3"/><line x1="253.2" y1="22.7" x2="260.8" y2="22.7"/></g>
<text font-family="Liberation Sans, sans-serif" font-size="14.5" fill="#585858" x="264.1" y="28">, FXCM</text>
<text font-family="Liberation Sans, sans-serif" font-size="13" fill="#585858" x="67.3" y="470.5" letter-spacing="0.55">STDEV (20, close)</text>
<text font-family="Liberation Sans, sans-serif" font-size="11.5" font-weight="bold" fill="#555555" x="73" y="685.2" text-anchor="middle">2018</text>
<text font-family="Liberation Sans, sans-serif" font-size="11" fill="#555555" x="189.7" y="685">2</text>
<g fill="none" stroke="#555555" stroke-width="1"><path d="M198.0,676.5 V682.5 Q198.0,684.8 196.4,686 M198.0,676.5 H204.4 V685.3 Q204.4,685.8 202.7,685.8 M198.0,679.5 H204.4 M198.0,682.4 H204.4"/></g>
<text font-family="Liberation Sans, sans-serif" font-size="11" fill="#555555" x="298.7" y="685">3</text>
<g fill="none" stroke="#555555" stroke-width="1"><path d="M307.0,676.5 V682.5 Q307.0,684.8 305.4,686 M307.0,676.5 H313.4 V685.3 Q313.4,685.8 311.7,685.8 M307.0,679.5 H313.4 M307.0,682.4 H313.4"/></g>
<text font-family="Liberation Sans, sans-serif" font-size="11" fill="#555555" x="418.7" y="685">4</text>
<g fill="none" stroke="#555555" stroke-width="1"><path d="M427.0,676.5 V682.5 Q427.0,684.8 425.4,686 M427.0,676.5 H433.4 V685.3 Q433.4,685.8 431.7,685.8 M427.0,679.5 H433.4 M427.0,682.4 H433.4"/></g>
<text font-family="Liberation Sans, sans-serif" font-size="11" fill="#555555" x="532.7" y="685">5</text>
<g fill="none" stroke="#555555" stroke-width="1"><path d="M541.0,676.5 V682.5 Q541.0,684.8 539.4,686 M541.0,676.5 H547.4 V685.3 Q547.4,685.8 545.7,685.8 M541.0,679.5 H547.4 M541.0,682.4 H547.4"/></g>
<text font-family="Liberation Sans, sans-serif" font-size="11" fill="#555555" x="657.7" y="685">6</text>
<g fill="none" stroke="#555555" stroke-width="1"><path d="M666.0,676.5 V682.5 Q666.0,684.8 664.4,686 M666.0,676.5 H672.4 V685.3 Q672.4,685.8 670.7,685.8 M666.0,679.5 H672.4 M666.0,682.4 H672.4"/></g>
<text font-family="Liberation Sans, sans-serif" font-size="11" fill="#555555" x="771.7" y="685">7</text>
<g fill="none" stroke="#555555" stroke-width="1"><path d="M780.0,676.5 V682.5 Q780.0,684.8 778.4,686 M780.0,676.5 H786.4 V685.3 Q786.4,685.8 784.7,685.8 M780.0,679.5 H786.4 M780.0,682.4 H786.4"/></g>
<text font-family="Liberation Sans, sans-serif" font-size="11" fill="#555555" x="891.7" y="685">8</text>
<g fill="none" stroke="#555555" stroke-width="1"><path d="M900.0,676.5 V682.5 Q900.0,684.8 898.4,686 M900.0,676.5 H906.4 V685.3 Q906.4,685.8 904.7,685.8 M900.0,679.5 H906.4 M900.0,682.4 H906.4"/></g>
<defs><clipPath id="fA"><circle cx="910.7" cy="432.8" r="9.8"/></clipPath><clipPath id="fB"><circle cx="922.3" cy="432.8" r="9.8"/></clipPath></defs>
<circle cx="927.6" cy="408.4" r="10.5" fill="#f7f8fa" stroke="#f39c2c" stroke-width="1.4"/>
<circle cx="922.7" cy="408.4" r="10.5" fill="#f7f8fa" stroke="#f39c2c" stroke-width="1.4"/>
<circle cx="917.2" cy="408.4" r="10.5" fill="#f7f8fa" stroke="#f39c2c" stroke-width="1.4"/>
<circle cx="922.9" cy="409.3" r="3.4" fill="#e8495e"/>
<circle cx="910.6" cy="408.4" r="10.6" fill="#f2f4f7" stroke="#f39c2c" stroke-width="1.4"/>
<circle cx="911.5" cy="408.8" r="3.5" fill="#e8495e"/>
<circle cx="933.2" cy="432.8" r="10.5" fill="#ffffff" stroke="#f39c2c" stroke-width="1.4"/>
<circle cx="927.8" cy="432.8" r="10.5" fill="#ffffff" stroke="#f39c2c" stroke-width="1.4"/>
<circle cx="922.3" cy="432.8" r="10.6" fill="#fff" stroke="#f4476a" stroke-width="1.4"/>
<g clip-path="url(#fB)"><rect x="912.3" y="421" width="22" height="24" fill="#fff"/><rect x="912.3" y="427.5" width="22" height="3" fill="#e8495e"/><rect x="912.3" y="431" width="22" height="3.2" fill="#e8495e"/><rect x="912.3" y="437.4" width="22" height="3.3" fill="#e8495e"/><rect x="912.3" y="424" width="12.100000000000023" height="10.5" fill="#4a86d8"/></g>
<circle cx="910.7" cy="432.8" r="10.6" fill="#fff" stroke="#f4476a" stroke-width="1.4"/>
<g clip-path="url(#fA)"><rect x="900.7" y="421" width="22" height="24" fill="#fff"/><rect x="900.7" y="427.5" width="22" height="3" fill="#e8495e"/><rect x="900.7" y="431" width="22" height="3.2" fill="#e8495e"/><rect x="900.7" y="437.4" width="22" height="3.3" fill="#e8495e"/><rect x="900.7" y="424" width="12.100000000000023" height="10.5" fill="#4a86d8"/></g>
<rect x="915.5" y="396.5" width="25" height="9" fill="#ffffff"/>
<rect x="914.5" y="420.8" width="31.5" height="8.6" fill="#ffffff"/>
<g font-family="Liberation Serif, serif" font-size="11.5" fill="#2a2a2a"><text x="917.2" y="404.9">2</text><text x="928.3" y="404.9">3</text><text x="936.6" y="404.9">!</text><text x="914.6" y="428.9">12</text><text x="933.4" y="428.9">2</text><text x="942" y="428.9">!</text></g>
</svg>
</body></html>
